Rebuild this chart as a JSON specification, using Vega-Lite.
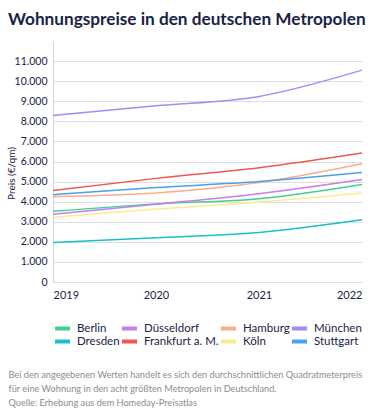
{
  "$schema": "https://vega.github.io/schema/vega-lite/v6.json",
  "width": 309,
  "height": 241,
  "autosize": {"type": "none"},
  "padding": {"left": 53, "top": 41, "right": 13, "bottom": 136},
  "background": "#ffffff",
  "title": {
    "text": "Wohnungspreise in den deutschen Metropolen",
    "anchor": "start",
    "frame": "group",
    "dx": -45,
    "offset": -1,
    "baseline": "alphabetic",
    "font": "Lato",
    "fontSize": 17.2,
    "fontWeight": "bold",
    "color": "#1a2346"
  },
  "data": {
    "values": [
      {"Jahr": 2019, "Stadt": "Berlin", "Preis": 3520},
      {"Jahr": 2020, "Stadt": "Berlin", "Preis": 3890},
      {"Jahr": 2021, "Stadt": "Berlin", "Preis": 4150},
      {"Jahr": 2022, "Stadt": "Berlin", "Preis": 4860},
      {"Jahr": 2019, "Stadt": "Dresden", "Preis": 1970},
      {"Jahr": 2020, "Stadt": "Dresden", "Preis": 2200},
      {"Jahr": 2021, "Stadt": "Dresden", "Preis": 2470},
      {"Jahr": 2022, "Stadt": "Dresden", "Preis": 3100},
      {"Jahr": 2019, "Stadt": "Düsseldorf", "Preis": 3370},
      {"Jahr": 2020, "Stadt": "Düsseldorf", "Preis": 3870},
      {"Jahr": 2021, "Stadt": "Düsseldorf", "Preis": 4400},
      {"Jahr": 2022, "Stadt": "Düsseldorf", "Preis": 5110},
      {"Jahr": 2019, "Stadt": "Frankfurt a. M.", "Preis": 4560},
      {"Jahr": 2020, "Stadt": "Frankfurt a. M.", "Preis": 5160},
      {"Jahr": 2021, "Stadt": "Frankfurt a. M.", "Preis": 5690},
      {"Jahr": 2022, "Stadt": "Frankfurt a. M.", "Preis": 6420},
      {"Jahr": 2019, "Stadt": "Hamburg", "Preis": 4250},
      {"Jahr": 2020, "Stadt": "Hamburg", "Preis": 4430},
      {"Jahr": 2021, "Stadt": "Hamburg", "Preis": 4950},
      {"Jahr": 2022, "Stadt": "Hamburg", "Preis": 5890},
      {"Jahr": 2019, "Stadt": "Köln", "Preis": 3220},
      {"Jahr": 2020, "Stadt": "Köln", "Preis": 3630},
      {"Jahr": 2021, "Stadt": "Köln", "Preis": 3980},
      {"Jahr": 2022, "Stadt": "Köln", "Preis": 4430},
      {"Jahr": 2019, "Stadt": "München", "Preis": 8290},
      {"Jahr": 2020, "Stadt": "München", "Preis": 8770},
      {"Jahr": 2021, "Stadt": "München", "Preis": 9240},
      {"Jahr": 2022, "Stadt": "München", "Preis": 10550},
      {"Jahr": 2019, "Stadt": "Stuttgart", "Preis": 4350},
      {"Jahr": 2020, "Stadt": "Stuttgart", "Preis": 4700},
      {"Jahr": 2021, "Stadt": "Stuttgart", "Preis": 5000},
      {"Jahr": 2022, "Stadt": "Stuttgart", "Preis": 5450}
    ]
  },
  "mark": {"type": "line", "interpolate": "monotone", "strokeWidth": 1.5},
  "encoding": {
    "x": {
      "field": "Jahr",
      "type": "quantitative",
      "scale": {"domain": [2019, 2022], "nice": false, "zero": false},
      "axis": {
        "values": [2019, 2020, 2021, 2022],
        "format": "d",
        "grid": false,
        "ticks": false,
        "domain": false,
        "labelFont": "Lato",
        "labelFontSize": 11,
        "labelColor": "#1a2346",
        "labelPadding": 7,
        "labelAlign": {"expr": "datum.value == 2019 ? 'left' : datum.value == 2022 ? 'right' : 'center'"},
        "title": [
          "Bei den angegebenen Werten handelt es sich den durchschnittlichen Quadratmeterpreis",
          "für eine Wohnung in den acht größten Metropolen in Deutschland.",
          "Quelle: Erhebung aus dem Homeday-Preisatlas"
        ],
        "titleX": -45,
        "titleY": 88,
        "titleAlign": "left",
        "titleBaseline": "top",
        "titleFont": "Lato",
        "titleFontSize": 9.2,
        "titleFontWeight": "normal",
        "titleColor": "#8c8c8c",
        "titleLineHeight": 14
      }
    },
    "y": {
      "field": "Preis",
      "type": "quantitative",
      "scale": {"domain": [0, 12000], "nice": false},
      "axis": {
        "values": [0, 1000, 2000, 3000, 4000, 5000, 6000, 7000, 8000, 9000, 10000, 11000],
        "labelExpr": "replace(format(datum.value, ','), ',', '.')",
        "ticks": false,
        "domainColor": "#d5d7de",
        "gridColor": "#dcdee4",
        "labelFont": "Lato",
        "labelFontSize": 10.5,
        "labelColor": "#1a2346",
        "labelPadding": 6,
        "title": "Preis (€/qm)",
        "titleFont": "Lato",
        "titleFontSize": 10,
        "titleFontWeight": "normal",
        "titleColor": "#1a2346",
        "titleX": -42,
        "titleY": 132,
        "titleBaseline": "middle",
        "titleAlign": "center"
      }
    },
    "color": {
      "field": "Stadt",
      "type": "nominal",
      "scale": {
        "domain": ["Berlin", "Düsseldorf", "Hamburg", "München", "Dresden", "Frankfurt a. M.", "Köln", "Stuttgart"],
        "range": ["#3fd18f", "#c77dec", "#f9ae87", "#a08ef0", "#17c1c6", "#f0584f", "#fbed8f", "#4aa0f0"]
      },
      "legend": {
        "orient": "none",
        "legendX": 0,
        "legendY": 282,
        "title": null,
        "columns": 4,
        "direction": "horizontal",
        "gridAlign": "each",
        "symbolType": "stroke",
        "symbolSize": 225,
        "symbolStrokeWidth": 4,
        "clipHeight": 11,
        "labelFont": "Lato",
        "labelFontSize": 11.5,
        "labelColor": "#1a2346",
        "labelOffset": 5,
        "columnPadding": -3,
        "rowPadding": 1
      }
    }
  },
  "config": {
    "view": {"stroke": null}
  }
}
